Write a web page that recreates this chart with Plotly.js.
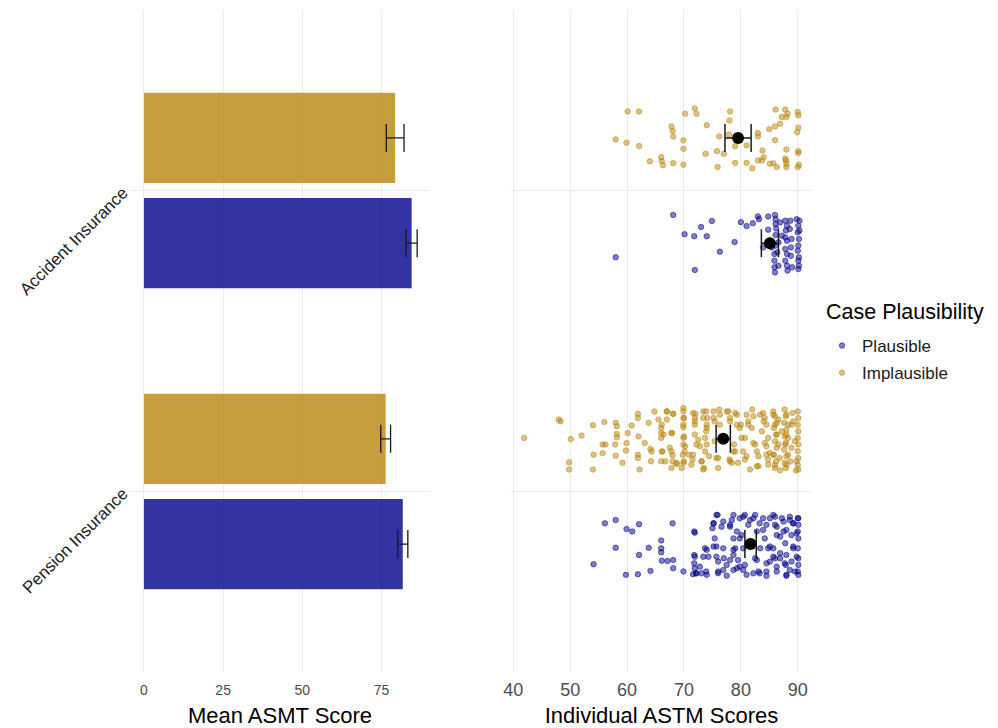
<!DOCTYPE html>
<html><head><meta charset="utf-8">
<script src="https://cdn.plot.ly/plotly-3.0.1.min.js"></script>
<style>html,body{margin:0;padding:0;background:#fff}#chart{width:998px;height:728px}</style>
</head><body><div id="chart"></div>
<script>
// ---- categories & groups ----
const categories = ['Pension Insurance', 'Accident Insurance'];
const groupNames = ['Plausible', 'Implausible'];
const legendTitle = 'Case Plausibility';

// ---- left panel: mean ASMT score with error bars (Pension, Accident) ----
const barMeanPlausible = [81.7, 84.5];
const barErrPlausible = [1.6, 1.75];
const barMeanImplausible = [76.3, 79.3];
const barErrImplausible = [1.55, 2.8];

// ---- right panel: mean markers with error bars (Pension, Accident) ----
const ptMeanPlausible = [81.7, 85.1];
const ptErrPlausible = [1.0, 1.5];
const ptMeanImplausible = [76.9, 79.5];
const ptErrImplausible = [1.25, 2.3];

// ---- right panel: individual scores and their vertical jitter ----
const pensionPlausibleScores = [54.1,56.1,58.0,58.0,59.9,60.9,59.8,61.9,62.1,62.1,
63.8,64.1,66.0,66.0,66.0,66.1,67.1,68.1,68.1,68.0,
69.9,71.8,71.8,71.8,72.1,71.6,72.8,73.1,73.9,73.7,
74.3,75.2,75.0,75.4,75.7,76.0,76.0,75.9,76.6,76.9,
77.0,77.5,78.1,78.4,78.7,79.0,78.7,79.3,79.5,79.8,
80.7,81.3,80.1,80.4,80.7,81.0,82.2,82.8,82.5,83.1,
83.4,83.9,84.5,84.2,84.8,85.1,84.5,85.7,86.0,86.3,
85.7,86.0,86.3,87.2,87.5,87.8,88.0,87.9,88.0,88.6,
88.9,89.2,88.9,89.5,90.0,90.1,90.0,90.1,90.0,90.1,
90.1,90.0,89.2,86.9,
71.9,75.7,75.2,76.9,78.1,78.7,79.3,79.8,80.4,81.6,
82.5,83.3,83.9,85.1,86.0,86.3,86.9,87.5,88.0,88.6,
89.2,89.8,90.1,85.1,85.7,86.3,84.5,83.3,82.8,79.8,
78.7,78.1,76.9,75.7,75.2,74.0,73.4,71.9,71.9,72.2,
74.0,76.0,77.5,78.7,80.4,82.2,86.9,87.7,88.6,89.2,
89.8,88.0,90.1,84.5];
const pensionPlausibleJitter = [-0.067,0.069,0.080,-0.012,0.050,0.042,-0.102,-0.100,0.066,-0.036,
-0.012,-0.089,0.012,-0.014,-0.027,-0.055,-0.056,-0.053,-0.080,0.069,
-0.091,0.042,-0.036,-0.064,-0.097,-0.100,-0.075,-0.097,-0.091,-0.014,
-0.042,0.069,0.053,0.019,-0.008,-0.058,-0.091,0.097,0.058,-0.014,
-0.047,-0.069,0.064,0.080,0.019,-0.014,-0.036,-0.080,-0.053,0.086,
0.097,0.064,0.030,-0.014,-0.069,-0.102,0.086,0.042,-0.047,-0.091,
-0.014,0.086,0.064,0.019,-0.014,-0.058,-0.091,0.097,0.064,0.030,
-0.014,-0.047,-0.091,0.086,0.042,0.003,-0.036,-0.069,-0.102,0.080,
0.030,-0.014,-0.058,-0.091,0.086,0.064,0.042,0.019,-0.014,-0.047,
-0.069,-0.091,0.069,-0.047,
0.038,0.097,0.069,0.075,0.058,0.097,0.042,0.019,0.091,0.080,
0.097,0.069,0.047,0.086,0.091,0.058,0.025,0.075,0.047,0.091,
0.069,0.036,0.086,-0.008,-0.042,-0.075,-0.064,-0.097,-0.053,-0.075,
-0.019,-0.053,-0.086,-0.042,-0.008,-0.019,-0.042,-0.042,-0.080,-0.097,
-0.102,-0.097,-0.105,-0.086,-0.086,-0.097,-0.030,-0.064,-0.086,-0.008,
-0.042,-0.105,-0.102,-0.105];

const pensionImplausibleScores = [41.9,48.0,48.3,50.1,49.8,49.8,52.0,54.0,54.1,54.0,
56.0,55.7,56.2,55.7,58.0,58.2,58.2,58.2,57.9,58.0,
59.2,59.9,60.1,59.8,60.8,61.9,61.9,62.0,61.9,61.9,
62.2,63.1,63.8,64.1,64.3,64.2,64.8,65.5,66.0,66.0,
66.0,66.2,66.0,67.0,67.0,67.9,68.1,67.8,68.0,68.0,
68.7,69.6,69.9,69.9,69.9,70.0,69.9,70.1,69.9,70.9,
71.5,72.0,71.9,71.9,72.5,72.8,73.1,73.5,73.9,74.1,
74.0,73.9,74.0,74.4,75.2,75.4,75.7,76.0,76.2,76.3,
76.3,77.8,78.1,78.0,78.4,79.0,79.3,78.8,78.7,79.5,
80.0,80.7,81.0,81.3,82.0,82.2,81.9,82.5,82.8,82.8,
83.1,83.9,84.2,84.5,84.8,84.5,85.1,84.8,
85.7,86.0,86.3,85.8,86.2,86.0,86.3,85.8,86.2,86.0,86.6,86.8,
87.7,87.9,87.6,88.0,87.7,87.9,87.6,88.0,87.7,87.9,88.3,87.2,
88.9,88.9,89.1,88.7,
90.0,90.1,90.0,90.1,90.0,90.1,90.0,90.1,90.0,90.1,
67.0,68.1,66.1,66.4,67.8,67.5,66.1,66.7,67.8,69.9,
70.0,69.9,69.9,70.2,69.8,70.0,68.7,71.6,71.9,71.9,
72.2,71.6,71.3,73.4,73.4,74.0,73.7,73.7,73.1,73.4,
75.2,75.4,76.0,77.5,78.1,79.3,79.0,78.1,79.8,81.0,
81.3,80.1,80.4,80.7,81.6,82.2,83.1,83.4,84.0,83.7,
84.2,84.5,84.8,85.7,86.0,86.3,86.6,85.7,86.0,86.9,
88.0,88.3,88.0,87.8,88.3,88.0,89.2,89.5,89.8,89.7];
const pensionImplausibleJitter = [0.003,0.064,0.058,-0.001,-0.078,-0.102,0.011,0.045,-0.053,-0.102,
0.056,-0.019,-0.019,-0.048,0.053,0.042,0.016,0.005,-0.019,-0.056,
-0.080,-0.014,0.019,-0.039,0.044,0.083,0.069,0.008,-0.053,-0.064,
-0.102,-0.014,0.053,-0.034,-0.042,-0.075,0.091,0.064,0.036,0.019,
0.003,-0.042,-0.075,0.064,0.091,0.019,0.083,-0.042,-0.055,-0.075,
-0.084,-0.097,0.091,0.069,0.047,0.008,-0.019,-0.042,-0.080,-0.053,
-0.069,0.083,0.069,0.047,-0.003,-0.025,-0.075,-0.097,0.091,0.069,
0.047,0.025,-0.019,-0.058,0.069,-0.008,-0.064,-0.097,0.097,0.080,
0.047,0.091,0.069,-0.069,-0.080,0.086,0.047,-0.019,-0.042,-0.080,
0.047,0.003,-0.058,0.058,0.097,0.075,0.036,-0.019,-0.042,-0.091,
-0.058,0.086,0.069,0.047,0.003,-0.025,-0.047,-0.069,
0.091,0.075,0.053,0.036,0.014,-0.008,-0.030,-0.053,-0.075,-0.097,0.064,-0.064,
0.097,0.075,0.053,0.030,0.008,-0.014,-0.036,-0.058,-0.080,-0.097,0.003,0.025,
0.047,-0.030,0.086,-0.075,
0.091,0.069,0.047,0.025,0.003,-0.019,-0.041,-0.064,-0.086,-0.102,
0.091,0.083,0.047,0.014,0.019,-0.030,-0.042,-0.075,-0.097,0.102,
0.069,0.038,0.003,-0.025,-0.053,-0.075,-0.080,0.086,0.058,0.014,
-0.019,-0.053,-0.086,0.091,0.069,0.036,0.003,-0.042,-0.075,-0.102,
0.091,0.058,-0.064,0.091,0.058,0.080,-0.042,-0.075,0.036,0.080,
0.047,0.003,-0.042,-0.069,-0.102,-0.014,-0.091,0.080,0.058,0.025,
-0.014,-0.053,-0.086,0.080,0.047,0.014,-0.019,-0.053,-0.086,-0.105,
0.080,0.047,0.014,-0.019,-0.053,-0.086,0.058,-0.008,-0.075,-0.105];

const accidentPlausibleScores = [68.1,58.0,70.1,71.8,73.0,74.9,74.0,76.3,71.9,78.9,
80.0,81.0,82.1,83.0,83.2,84.8,84.8,86.0,86.1,86.1,
86.2,86.1,86.0,85.9,85.9,85.9,86.0,86.9,87.2,86.6,
87.8,88.1,87.9,87.8,88.1,87.8,88.1,87.8,88.1,88.2,
88.7,88.6,88.9,88.8,88.8,89.0,89.8,90.1,90.0,90.2,
90.1,90.0,90.2,90.1,90.2,90.1,90.3,90.3,85.1,85.4,
86.4,86.6,83.9];
const accidentPlausibleJitter = [0.094,-0.047,0.030,0.023,0.054,0.074,0.023,-0.028,-0.089,0.004,
0.070,0.057,0.066,0.089,0.080,0.089,0.045,0.094,0.080,0.064,
0.049,0.027,-0.008,-0.036,-0.058,-0.080,-0.097,0.069,0.025,0.003,
0.075,0.058,0.042,0.019,0.008,-0.019,-0.036,-0.058,-0.075,-0.091,
0.075,0.047,0.014,-0.014,-0.042,-0.080,0.080,0.058,0.036,0.014,
-0.008,-0.025,-0.047,-0.058,-0.075,-0.086,0.075,0.042,0.003,-0.014,
-0.030,-0.075,-0.014];

const accidentImplausibleScores = [60.1,62.1,58.0,59.9,62.1,64.0,66.0,66.1,66.3,68.1,
67.8,68.0,68.1,69.9,69.9,69.9,70.2,71.9,72.2,74.0,
73.8,75.8,75.9,76.2,77.0,78.0,78.1,77.9,79.0,79.0,
81.0,81.0,82.0,83.0,83.0,83.0,83.8,84.0,83.7,85.0,
85.1,86.0,86.0,85.7,86.1,86.3,86.9,87.2,87.8,88.0,
88.2,88.0,87.9,88.0,88.0,87.8,90.0,90.1,89.9,90.1,
90.1,90.1,90.2,90.0];
const accidentImplausibleJitter = [0.088,0.088,-0.005,-0.016,-0.027,-0.078,-0.064,-0.077,-0.091,-0.084,
0.038,0.023,0.005,-0.008,-0.036,-0.089,0.080,0.098,0.080,0.042,
-0.053,-0.044,-0.097,0.005,-0.053,0.058,0.088,0.011,-0.028,-0.083,
-0.083,-0.025,-0.101,0.016,0.005,-0.075,-0.042,-0.064,-0.075,0.029,
-0.086,0.038,-0.008,-0.084,0.094,-0.097,0.047,0.069,0.094,0.069,
0.080,-0.039,-0.075,-0.086,-0.097,-0.069,0.086,0.075,0.019,0.034,
-0.044,-0.050,-0.089,-0.097];

// ---- styling ----
const GOLD = 'rgb(184,134,11)';
const BLUE = 'rgb(0,0,139)';
const rgba = (c, a) => c.replace('rgb(', 'rgba(').replace(')', ',' + a + ')');
const FONT = 'Liberation Sans, Arial, sans-serif';
const DODGE = 0.175;   // position_dodge offset
const catPos = categories.map((c, i) => i + 1);
const posPl = catPos.map(p => p - DODGE);
const posIm = catPos.map(p => p + DODGE);

const traces = [];
// bars
traces.push({type:'bar', orientation:'h', x: barMeanPlausible, y: posPl, width: 0.3,
  marker:{color: rgba(BLUE,0.8), line:{width:0}}, showlegend:false, hoverinfo:'skip',
  error_x:{type:'data', array: barErrPlausible, color:'#1a1a1a', thickness:1.3, width:14},
  xaxis:'x', yaxis:'y'});
traces.push({type:'bar', orientation:'h', x: barMeanImplausible, y: posIm, width: 0.3,
  marker:{color: rgba(GOLD,0.8), line:{width:0}}, showlegend:false, hoverinfo:'skip',
  error_x:{type:'data', array: barErrImplausible, color:'#1a1a1a', thickness:1.3, width:14},
  xaxis:'x', yaxis:'y'});

// individual points
const ptMarker = c => ({color: rgba(c,0.5), size:5.5, line:{color: rgba(c,0.5), width:1}});
traces.push({type:'scatter', mode:'markers', name: groupNames[0], legendgroup:'g1',
  x: pensionPlausibleScores.concat(accidentPlausibleScores),
  y: pensionPlausibleJitter.map(j => posPl[0] + j).concat(accidentPlausibleJitter.map(j => posPl[1] + j)),
  marker: ptMarker(BLUE), xaxis:'x2', yaxis:'y2'});
traces.push({type:'scatter', mode:'markers', name: groupNames[1], legendgroup:'g2',
  x: pensionImplausibleScores.concat(accidentImplausibleScores),
  y: pensionImplausibleJitter.map(j => posIm[0] + j).concat(accidentImplausibleJitter.map(j => posIm[1] + j)),
  marker: ptMarker(GOLD), xaxis:'x2', yaxis:'y2'});

// mean markers
traces.push({type:'scatter', mode:'markers', x: ptMeanPlausible, y: posPl, showlegend:false,
  marker:{color:'#000', size:12}, error_x:{type:'data', array: ptErrPlausible, color:'#1a1a1a', thickness:1.5, width:14},
  xaxis:'x2', yaxis:'y2'});
traces.push({type:'scatter', mode:'markers', x: ptMeanImplausible, y: posIm, showlegend:false,
  marker:{color:'#000', size:12}, error_x:{type:'data', array: ptErrImplausible, color:'#1a1a1a', thickness:1.5, width:14},
  xaxis:'x2', yaxis:'y2'});

const grid = '#ebebeb';
const layout = {
  width: 998, height: 728,
  margin: {l:130, r:186, t:10, b:56},
  paper_bgcolor:'#fff', plot_bgcolor:'#fff',
  font: {family: FONT, color:'#000'},
  showlegend: true,
  xaxis: {domain:[0, 0.4399], range:[-4.4, 90.3], tickmode:'array', tickvals:[0,25,50,75],
    showgrid:true, gridcolor:grid, gridwidth:1, zeroline:false, showline:false, ticks:'',
    tickfont:{size:14, color:'#4d4d4d'}, ticklabelstandoff:8, automargin:false,
    title:{text:'Mean ASMT Score', font:{size:22, color:'#000'}, standoff:15}},
  yaxis: {domain:[0,1], range:[0.4, 2.6], tickmode:'array', tickvals: catPos, ticktext: categories,
    tickangle:-45, showgrid:true, gridcolor:grid, zeroline:false, showline:false, ticks:'',
    tickfont:{size:17, color:'#222'}, ticklabelstandoff:6, automargin:false},
  xaxis2: {domain:[0.5587, 1], anchor:'y2', range:[39.6, 92.5], tickmode:'array', tickvals:[40,50,60,70,80,90],
    showgrid:true, gridcolor:grid, zeroline:false, showline:false, ticks:'',
    tickfont:{size:18, color:'#4d4d4d'}, ticklabelstandoff:5, automargin:false,
    title:{text:'Individual ASTM Scores', font:{size:22, color:'#000'}, standoff:13}},
  yaxis2: {domain:[0,1], anchor:'x2', range:[0.4, 2.6], tickmode:'array', tickvals: catPos,
    showticklabels:false, showgrid:true, gridcolor:grid, zeroline:false, showline:false, ticks:''},
  legend: {x:1.0147, xanchor:'left', y:0.5196, yanchor:'top', bgcolor:'rgba(0,0,0,0)',
    font:{size:17, color:'#1a1a1a'}, traceorder:'grouped', tracegroupgap:2},
  annotations: [{text: legendTitle, xref:'paper', yref:'paper', x:1.0176, y:0.5438,
    xanchor:'left', yanchor:'middle', showarrow:false, font:{size:21.5, color:'#000'}}]
};

Plotly.newPlot('chart', traces, layout, {displayModeBar:false, staticPlot:true});
</script>
</body></html>
